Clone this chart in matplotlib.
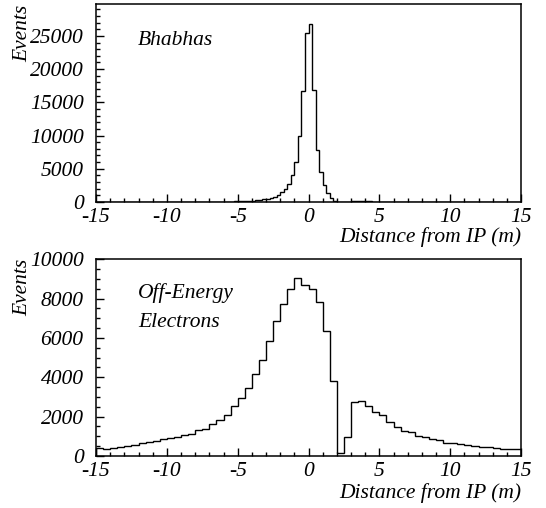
import numpy as np
import matplotlib.pyplot as plt
from matplotlib.ticker import MultipleLocator

# Binning of the two histograms (distance from IP in m)
x_lo, x_hi = -15, 15
bhabha_bin = 0.25
offe_bin = 0.5

# Bhabhas: 120 bins of 0.25 m, four per metre
bhabha_counts = [
    0, 0, 0, 0,            # -15..-14
    0, 0, 0, 0,            # -14..-13
    0, 0, 0, 0,            # -13..-12
    2, 3, 4, 5,            # -12..-11
    5, 6, 7, 8,            # -11..-10
    10, 10, 12, 12,        # -10..-9
    14, 15, 17, 18,        # -9..-8
    20, 22, 25, 28,        # -8..-7
    30, 35, 40, 45,        # -7..-6
    55, 60, 70, 80,        # -6..-5
    100, 120, 150, 180,    # -5..-4
    220, 270, 330, 400,    # -4..-3
    500, 650, 800, 1120,   # -3..-2
    1450, 1950, 2700, 4000,      # -2..-1
    6000, 9900, 16700, 25500,    # -1..0
    26800, 16800, 7800, 4500,    # 0..1
    2500, 1300, 600, 200,        # 1..2
    30, 20, 40, 60,        # 2..3
    120, 130, 120, 100,    # 3..4
    90, 80, 70, 60,        # 4..5
    50, 45, 40, 35,        # 5..6
    30, 28, 25, 22,        # 6..7
    20, 18, 16, 14,        # 7..8
    12, 11, 10, 9,         # 8..9
    8, 7, 6, 5,            # 9..10
    5, 4, 4, 3,            # 10..11
    3, 2, 2, 2,            # 11..12
    1, 1, 1, 0,            # 12..13
    0, 0, 0, 0,            # 13..14
    0, 0, 0, 0,            # 14..15
]

# Off-energy electrons: 60 bins of 0.5 m
offe_counts = [
    390, 360, 420, 460, 510, 540, 640, 730, 780, 850,          # -15..-10
    900, 980, 1050, 1100, 1310, 1390, 1630, 1850, 2080, 2540,  # -10..-5
    2970, 3470, 4170, 4860, 5850, 6880, 7750, 8510, 9050, 8710,  # -5..0
    8510, 7830, 6360, 3810, 140, 980, 2760, 2810, 2560, 2250,  # 0..5
    2080, 1750, 1490, 1290, 1240, 1020, 950, 850, 800, 680,    # 5..10
    640, 590, 560, 510, 470, 440, 390, 340, 340, 360,          # 10..15
]

plt.rcParams['font.family'] = 'Liberation Serif'
plt.rcParams['font.style'] = 'italic'
plt.rcParams['font.size'] = 15.5
plt.rcParams['axes.unicode_minus'] = False

fig = plt.figure(figsize=(5.46, 5.08), dpi=100)
ax1 = fig.add_axes([96 / 546, 1 - 202 / 508, 425 / 546, 198 / 508])
ax2 = fig.add_axes([96 / 546, 1 - 456 / 508, 425 / 546, 196.7 / 508])

ax1.stairs(bhabha_counts, np.arange(x_lo, x_hi + bhabha_bin / 2, bhabha_bin),
           color='black', lw=1.0)
ax2.stairs(offe_counts, np.arange(x_lo, x_hi + offe_bin / 2, offe_bin),
           color='black', lw=1.0)


def style_axis(ax, ymax, ymajor, yminor):
    ax.set_xlim(x_lo, x_hi)
    ax.set_ylim(0, ymax)
    ax.xaxis.set_major_locator(MultipleLocator(5))
    ax.xaxis.set_minor_locator(MultipleLocator(1))
    ax.yaxis.set_major_locator(MultipleLocator(ymajor))
    ax.yaxis.set_minor_locator(MultipleLocator(yminor))
    ax.tick_params(which='both', direction='in', top=False, right=False, width=1.0)
    ax.tick_params(which='major', length=6)
    ax.tick_params(which='minor', length=3)
    ax.tick_params(axis='x', which='major', pad=4)
    ax.tick_params(axis='y', which='major', pad=9)
    for sp in ax.spines.values():
        sp.set_linewidth(1.1)
    ax.set_xlabel('Distance from IP (m)', loc='right')
    ax.set_ylabel('Events', loc='top')


style_axis(ax1, 29800, 5000, 1000)
style_axis(ax2, 10000, 2000, 500)

ax1.xaxis.set_label_coords(1.0, -0.126)
ax2.xaxis.set_label_coords(1.0, -0.137)
ax1.yaxis.set_label_coords(-0.15, 0.995)
ax2.yaxis.set_label_coords(-0.15, 1.005)

ax1.text(0.099, 0.793, 'Bhabhas', transform=ax1.transAxes, va='baseline')
ax2.text(0.099, 0.803, 'Off-Energy', transform=ax2.transAxes, va='baseline')
ax2.text(0.099, 0.656, 'Electrons', transform=ax2.transAxes, va='baseline')

plt.savefig('out.png', dpi=100)
plt.close()
